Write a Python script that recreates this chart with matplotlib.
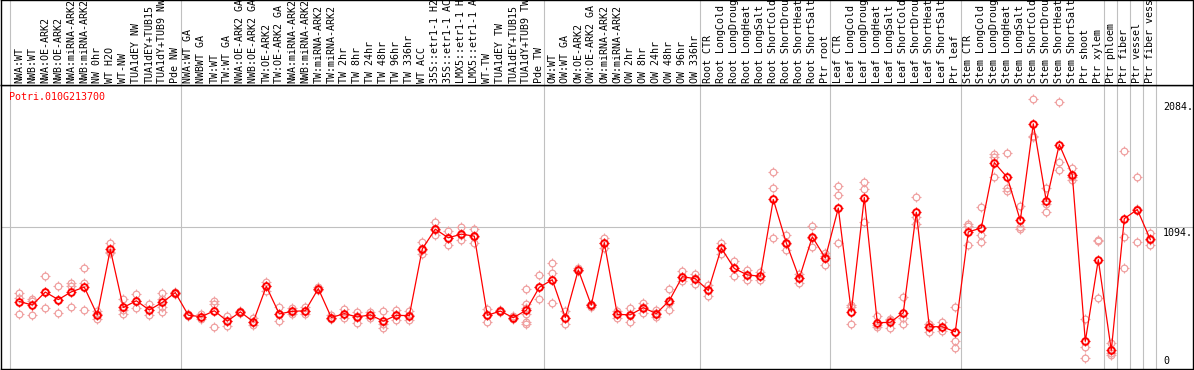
import matplotlib
matplotlib.use("Agg")
import matplotlib.pyplot as plt
import matplotlib.transforms as mtransforms
from matplotlib.path import Path
import numpy as np

# ---------------- data ----------------
gene_name = "Potri.010G213700"

nw_labels = ["NWA:WT", "NWB:WT", "NWA:OE-ARK2", "NWB:OE-ARK2", "NWA:miRNA-ARK2",
             "NWB:miRNA-ARK2", "NW 0hr", "WT H2O", "WT-NW", "TUA1dEY NW",
             "TUA1dEY+TUB15", "TUA1dY+TUB9 NW", "Pde NW"]
nw_reps = [[589, 550, 421], [542, 524, 413], [714, 597, 467], [636, 535, 433],
           [662, 641, 480], [776, 662, 454], [446, 420, 382], [971, 901, 893],
           [542, 454, 426], [581, 524, 472], [498, 454, 413], [589, 542, 478, 441],
           [597, 589, 581]]

tw_labels = ["NWA:WT GA", "NWBWT GA", "TW:WT", "TW:WT GA", "NWA:OE-ARK2 GA",
             "NWB:OE-ARK2 GA", "TW:OE-ARK2", "TW:OE-ARK2 GA", "NWA:miRNA-ARK2",
             "NWB:miRNA-ARK2", "TW:miRNA-ARK2", "TW:miRNA-ARK2", "TW 2hr", "TW 8hr",
             "TW 24hr", "TW 48hr", "TW 96hr", "TW 336hr", "WT ACC",
             "35S::etr1-1 H2O", "35S::etr1-1 ACC", "LMX5::etr1-1 H2O",
             "LMX5::etr1-1 ACC", "WT-TW", "TUA1dEY TW", "TUA1dEY+TUB15",
             "TUA1dY+TUB9 TW", "Pde TW"]
tw_reps = [[420, 415, 408], [420, 402, 387], [524, 498, 324], [408, 369, 330],
           [446, 441, 433], [395, 361, 337], [672, 636, 602], [478, 426, 369],
           [472, 441, 420], [480, 446, 420], [628, 620, 610], [413, 395, 382],
           [459, 426, 395], [439, 408, 356], [441, 415, 395], [446, 343, 317],
           [452, 413, 376], [446, 413, 374], [979, 914, 883], [1134, 1069, 1030],
           [1064, 1010, 958], [1095, 1030, 992], [1082, 1018, 971], [465, 413, 363],
           [454, 446, 439], [408, 395, 382], [620, 504, 472, 420, 363, 343],
           [724, 628, 537]]

ow_labels = ["OW:WT", "OW:WT GA", "OW:OE-ARK2", "OW:OE-ARK2 GA", "OW:miRNA-ARK2",
             "OW:miRNA-ARK2", "OW 2hr", "OW 8hr", "OW 24hr", "OW 48hr", "OW 96hr",
             "OW 336hr"]
ow_reps = [[815, 737, 511], [446, 395, 348], [776, 763, 753], [504, 491, 478],
           [1012, 973, 934], [446, 420, 395], [472, 420, 361], [506, 478, 433],
           [454, 428, 400], [615, 511, 454], [753, 706, 675], [732, 701, 654]]

root_labels = ["Root CTR", "Root LongCold", "Root LongDrought", "Root LongHeat",
               "Root LongSalt", "Root ShortCold", "Root ShortDrought",
               "Root ShortHeat", "Root ShortSalt", "Ptr root"]
root_reps = [[646, 607, 563], [973, 934, 888], [831, 779, 714], [766, 724, 685],
             [745, 714, 685], [1516, 1391, 1012], [1030, 966, 919], [732, 701, 662],
             [1103, 1012, 940], [893, 867, 805]]

leaf_labels = ["Leaf CTR", "Leaf LongCold", "Leaf LongDrought", "Leaf LongHeat",
               "Leaf LongSalt", "Leaf ShortCold", "Leaf ShortDrought",
               "Leaf ShortHeat", "Leaf ShortSalt", "Ptr leaf"]
leaf_reps = [[1407, 1342, 971], [493, 480, 350], [1441, 1389, 1134], [408, 337, 324],
             [387, 376, 317], [558, 395, 348], [1329, 1173, 1121], [350, 343, 286],
             [363, 322, 291], [480, 218, 161]]

stem_labels = ["Stem CTR", "Stem LongCold", "Stem LongDrought", "Stem LongHeat",
               "Stem LongSalt", "Stem ShortCold", "Stem ShortDrought",
               "Stem ShortHeat", "Stem ShortSalt", "Ptr shoot", "Ptr xylem"]
stem_reps = [[1114, 1101, 953], [1251, 1030, 979], [1659, 1635, 1477],
             [1666, 1394, 1368], [1256, 1095, 1082], [2084, 1796, 1788],
             [1394, 1272, 1212], [2056, 1596, 1537], [1550, 1480, 1459],
             [387, 169, 83], [992, 986, 550]]

cell_labels = ["Ptr phloem", "Ptr fiber", "Ptr vessel", "Ptr fiber vessel"]
cell_reps = [[200, 122, 109], [1679, 1018, 779], [1477, 1230, 979],
             [1049, 992, 953]]

y_max_label = 2084
y_mid_label = 1094

# ---------------- assemble ----------------
groups = [(nw_labels, nw_reps), (tw_labels, tw_reps), (ow_labels, ow_reps),
          (root_labels, root_reps), (leaf_labels, leaf_reps),
          (stem_labels, stem_reps)]
groups += [([l], [r]) for l, r in zip(cell_labels, cell_reps)]

labels, reps, bounds = [], [], []
for gl, gr in groups:
    labels += gl
    reps += gr
    bounds.append(len(labels) - 1)
n = len(labels)
xs = np.arange(n)
means = np.array([np.mean(r) for r in reps])

# ---------------- figure ----------------
W, H = 1194, 370
fig = plt.figure(figsize=(W / 100, H / 100), dpi=100)

def px_rect(x0, y0, x1, y1):
    return [x0 / W, 1 - y1 / H, (x1 - x0) / W, (y1 - y0) / H]

ax = fig.add_axes(px_rect(1, 85, 1193, 369))
hx = fig.add_axes(px_rect(1, 0, 1193, 85))

x0_px, step = 19.3, 13.0
xlim = ((1 - x0_px) / step, (1193 - x0_px) / step)
ymax = y_max_label * 1.05
for a in (ax, hx):
    a.set_xlim(*xlim)
    a.set_xticks([])
    a.set_yticks([])
    for s in a.spines.values():
        s.set_color("black")
        s.set_linewidth(1.0)
ax.set_ylim(0, ymax)
hx.set_ylim(85, 0)

mono = "DejaVu Sans Mono"
fs = 7.2
grid_c = "#c0c0c0"

# separators
sep_pos = [-0.7] + [b + 0.4 for b in bounds]
for a in (ax, hx):
    for sp in sep_pos:
        a.axvline(sp, color=grid_c, lw=0.8, zorder=0)
ax.axhline(ymax / 2, color=grid_c, lw=0.8, zorder=0)

# header labels
for i, lab in enumerate(labels):
    hx.text(i, 83, lab, rotation=90, ha="center", va="bottom", family=mono,
            fontsize=fs, color="black", clip_on=True)

# tick-ring marker (short ticks outside the circle)
tick_path = Path([(0, 0.62), (0, 1), (0, -0.62), (0, -1), (0.62, 0), (1, 0),
                  (-0.62, 0), (-1, 0)],
                 [Path.MOVETO, Path.LINETO] * 4)

rep_c = "#f0a0a0"
for i, r in enumerate(reps):
    rx = np.full(len(r), i)
    ax.plot(rx, r, linestyle="none", marker="o", ms=4.8, mfc="none", mec=rep_c,
            mew=0.9, zorder=2)
    ax.plot(rx, r, linestyle="none", marker=tick_path, ms=7.2, mec=rep_c,
            mew=0.8, zorder=2)

ax.plot(xs, means, color="red", lw=0.9, zorder=3)
ax.plot(xs, means, linestyle="none", marker="o", ms=4.8, mfc="none", mec="red",
        mew=1.4, zorder=4)
ax.plot(xs, means, linestyle="none", marker=tick_path, ms=7.4, mec="red",
        mew=0.9, zorder=4)

# gene name
ax.text(8.3 / 1192, 1 - 12 / 284, gene_name, transform=ax.transAxes, color="red",
        family=mono, fontsize=fs, ha="left", va="center")

# right-hand value labels
btr = mtransforms.blended_transform_factory(ax.transAxes, ax.transData)
lx = (1163 - 1) / 1192
t_top = mtransforms.offset_copy(btr, fig=fig, y=-3, units="dots")
t_mid = mtransforms.offset_copy(btr, fig=fig, y=-1, units="dots")
t_bot = mtransforms.offset_copy(btr, fig=fig, y=3, units="dots")
ax.text(lx, y_max_label, f"{y_max_label}.", transform=t_top, family=mono,
        fontsize=fs, ha="left", va="top")
ax.text(lx, y_mid_label, f"{y_mid_label}.", transform=t_mid, family=mono,
        fontsize=fs, ha="left", va="top")
ax.text(lx, 0, "0", transform=t_bot, family=mono, fontsize=fs, ha="left",
        va="bottom")

fig.savefig("out.png", dpi=100)
